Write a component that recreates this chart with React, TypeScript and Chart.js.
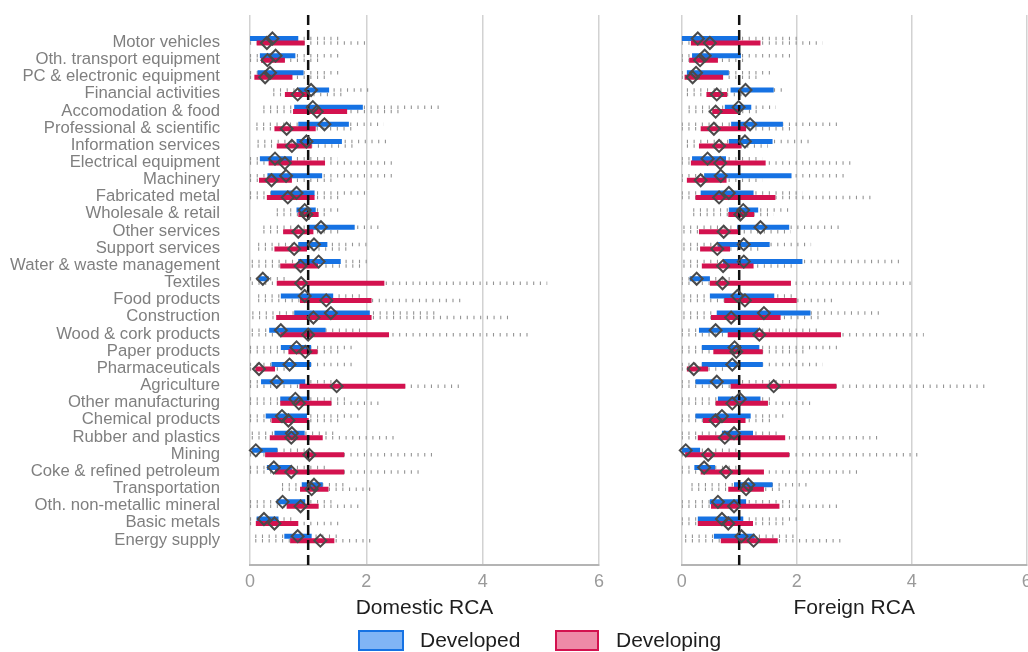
import React, { useEffect, useRef } from "react";
import { Chart, registerables } from "chart.js";

Chart.register(...registerables);

const FONT = "'Liberation Sans', Arial, Helvetica, sans-serif";
const BLUE = "#1672E3";
const RED = "#D3124F";
const WHISK = "#949494";
const OFF = 0.13;
const LABEL_NUDGE = 0.09;
const Y_MIN = -1.5;
const Y_MAX = 30.55;

const categories = [
  "Motor vehicles",
  "Oth. transport equipment",
  "PC & electronic equipment",
  "Financial activities",
  "Accomodation & food",
  "Professional & scientific",
  "Information services",
  "Electrical equipment",
  "Machinery",
  "Fabricated metal",
  "Wholesale & retail",
  "Other services",
  "Support services",
  "Water & waste management",
  "Textiles",
  "Food products",
  "Construction",
  "Wood & cork products",
  "Paper products",
  "Pharmaceuticals",
  "Agriculture",
  "Other manufacturing",
  "Chemical products",
  "Rubber and plastics",
  "Mining",
  "Coke & refined petroleum",
  "Transportation",
  "Oth. non-metallic mineral",
  "Basic metals",
  "Energy supply",
];

const xTicks = [0, 2, 4, 6];

// Domestic RCA – Developed
const domDevLo = [0, 0, 0, 0.4, 0.23, 0.11, 0.13, 0, 0, 0, 0.46, 0.23, 0.14, 0.03, 0, 0.14, 0.04, 0.03, 0, 0, 0, 0, 0, 0.03, 0, 0, 0.55, 0, 0, 0.09];
const domDevQ1 = [0.0, 0.17, 0.13, 0.83, 0.76, 0.83, 0.8, 0.17, 0.3, 0.36, 0.8, 0.99, 0.83, 0.83, 0.14, 0.53, 0.76, 0.33, 0.53, 0.37, 0.19, 0.52, 0.27, 0.42, 0.03, 0.29, 0.89, 0.46, 0.115, 0.59];
const domDevMed = [0.385, 0.44, 0.345, 1.05, 1.08, 1.28, 0.97, 0.43, 0.62, 0.8, 0.94, 1.22, 1.1, 1.18, 0.22, 0.94, 1.39, 0.53, 0.8, 0.68, 0.46, 0.78, 0.55, 0.72, 0.1, 0.41, 1.1, 0.56, 0.24, 0.82];
const domDevQ3 = [0.83, 0.78, 0.92, 1.36, 1.94, 1.7, 1.58, 0.72, 1.24, 1.11, 1.13, 1.8, 1.33, 1.56, 0.32, 1.43, 2.06, 1.3, 1.05, 1.05, 0.95, 1.02, 0.98, 0.94, 0.47, 0.72, 1.25, 0.95, 0.49, 1.06];
const domDevHi = [1.55, 1.6, 1.58, 2.07, 3.33, 2.3, 2.41, 1.5, 2.47, 1.98, 1.55, 2.27, 2.0, 2.1, 0.6, 1.95, 3.2, 1.95, 1.75, 1.81, 1.4, 1.7, 1.93, 1.5, 1.0, 1.3, 1.65, 1.4, 0.8, 1.5];

// Domestic RCA – Developing
const domDvgLo = [0, 0, 0, 0.4, 0.23, 0.11, 0.13, 0, 0, 0, 0.46, 0.23, 0.14, 0.03, 0.03, 0.14, 0.04, 0.03, 0, 0, 0, 0, 0, 0.03, 0, 0, 0.55, 0, 0, 0.09];
const domDvgQ1 = [0.115, 0.19, 0.075, 0.6, 0.74, 0.42, 0.46, 0.32, 0.155, 0.29, 0.83, 0.57, 0.42, 0.52, 0.46, 0.86, 0.45, 0.52, 0.66, 0.09, 0.85, 0.52, 0.37, 0.34, 0.26, 0.43, 0.86, 0.63, 0.1, 0.69];
const domDvgMed = [0.29, 0.3, 0.26, 0.82, 1.15, 0.63, 0.72, 0.6, 0.37, 0.65, 0.97, 0.83, 0.76, 0.87, 0.88, 1.31, 1.09, 1.0, 0.95, 0.155, 1.49, 0.84, 0.66, 0.71, 1.02, 0.71, 1.06, 0.87, 0.42, 1.21];
const domDvgQ3 = [0.94, 0.6, 0.73, 1.03, 1.67, 1.13, 1.06, 1.29, 0.72, 1.11, 1.18, 1.09, 0.98, 1.17, 2.31, 2.09, 2.09, 2.39, 1.16, 0.43, 2.67, 1.4, 1.01, 1.25, 1.62, 1.62, 1.35, 1.18, 0.83, 1.45];
const domDvgHi = [1.98, 1.2, 1.3, 1.6, 2.6, 1.75, 1.8, 2.44, 1.4, 1.6, 1.35, 1.6, 1.7, 1.9, 5.11, 3.71, 4.48, 4.8, 1.6, 0.6, 3.65, 2.3, 1.6, 2.53, 3.19, 2.9, 2.07, 1.9, 1.52, 2.13];

// Foreign RCA – Developed
const forDevLo = [0, 0, 0, 0.09, 0.12, 0, 0.09, 0, 0, 0, 0.2, 0.03, 0.03, 0.03, 0, 0.03, 0.03, 0, 0, 0, 0, 0, 0, 0, 0, 0, 0.17, 0, 0, 0.06];
const forDevQ1 = [0, 0.18, 0.09, 0.85, 0.75, 0.86, 0.82, 0.18, 0.39, 0.33, 0.82, 0.97, 0.63, 0.72, 0.14, 0.49, 0.61, 0.3, 0.35, 0.35, 0.24, 0.63, 0.24, 0.7, 0, 0.22, 0.91, 0.49, 0.28, 0.56];
const forDevMed = [0.28, 0.4, 0.25, 1.11, 0.99, 1.19, 1.1, 0.45, 0.68, 0.82, 1.07, 1.37, 1.08, 1.08, 0.26, 0.97, 1.43, 0.59, 0.92, 0.88, 0.61, 1.01, 0.7, 0.91, 0.07, 0.39, 1.16, 0.63, 0.7, 1.04];
const forDevQ3 = [1.0, 1.03, 0.82, 1.6, 1.21, 1.76, 1.58, 0.77, 1.91, 1.25, 1.33, 1.87, 1.53, 2.1, 0.49, 1.61, 2.24, 1.33, 1.35, 1.41, 1.01, 1.37, 1.2, 1.24, 0.32, 0.58, 1.58, 1.12, 1.07, 1.27];
const forDevHi = [2.0, 1.93, 1.61, 1.82, 1.64, 2.77, 2.22, 1.4, 2.85, 2.1, 1.87, 2.82, 2.25, 3.78, 0.9, 2.0, 3.49, 2.4, 2.71, 2.45, 1.9, 1.6, 1.84, 1.7, 1.0, 1.0, 2.22, 1.9, 2.05, 2.0];

// Foreign RCA – Developing
const forDvgLo = [0, 0, 0, 0.09, 0.12, 0, 0.09, 0, 0, 0, 0.2, 0.03, 0.03, 0.03, 0, 0.03, 0.03, 0, 0, 0, 0, 0, 0, 0, 0, 0, 0.17, 0, 0, 0.06];
const forDvgQ1 = [0.16, 0.13, 0.05, 0.43, 0.53, 0.33, 0.3, 0.16, 0.09, 0.24, 0.81, 0.3, 0.32, 0.35, 0.49, 0.74, 0.51, 0.8, 0.55, 0.09, 0.85, 0.59, 0.37, 0.28, 0.06, 0.33, 0.81, 0.51, 0.28, 0.68];
const forDvgMed = [0.49, 0.32, 0.19, 0.61, 0.59, 0.56, 0.65, 0.67, 0.33, 0.65, 1.02, 0.73, 0.62, 0.72, 0.71, 1.1, 0.86, 1.35, 0.95, 0.21, 1.6, 0.88, 0.59, 0.75, 0.46, 0.77, 1.12, 0.91, 0.81, 1.25];
const forDvgQ3 = [1.37, 0.63, 0.72, 0.79, 1.01, 1.12, 1.04, 1.46, 0.78, 1.63, 1.26, 1.01, 0.84, 1.25, 1.9, 2.0, 1.72, 2.77, 1.41, 0.46, 2.69, 1.5, 1.11, 1.8, 1.87, 1.43, 1.43, 1.7, 1.24, 1.67];
const forDvgHi = [2.45, 1.1, 1.3, 1.1, 1.4, 1.9, 1.5, 3.0, 1.4, 3.37, 1.6, 1.9, 1.4, 2.0, 3.98, 2.62, 2.4, 4.21, 2.2, 0.8, 5.3, 2.28, 1.6, 3.4, 4.12, 3.05, 1.8, 2.77, 1.8, 2.8];

const referenceLine = 1;

type Group = { lo: number[]; q1: number[]; med: number[]; q3: number[]; hi: number[] };

function segments(a: number[], b: number[], off: number) {
  const out: any[] = [];
  a.forEach((v, i) => {
    out.push({ x: v, y: i + off }, { x: b[i], y: i + off }, { x: null, y: null });
  });
  return out;
}

function points(m: number[], off: number) {
  return m.map((v, i) => ({ x: v, y: i + off }));
}

function buildConfig(dev: Group, dvg: Group, title: string, showLabels: boolean, padL: number, padR: number): any {
  const diamond = (data: any[]) => ({
    data,
    showLine: false,
    pointStyle: "rectRot",
    pointRadius: 6,
    pointBorderWidth: 2,
    pointBorderColor: "#4a4a4a",
    pointBackgroundColor: "rgba(0,0,0,0)",
    clip: false,
  });
  const bar = (data: any[], color: string) => ({
    data,
    showLine: true,
    borderColor: color,
    borderWidth: 5,
    borderCapStyle: "butt",
    pointRadius: 0,
    spanGaps: false,
  });
  const whisker = (data: any[]) => ({
    data,
    showLine: true,
    borderColor: WHISK,
    borderWidth: 3.5,
    borderDash: [1.1, 5.6],
    borderCapStyle: "butt",
    pointRadius: 0,
    spanGaps: false,
  });
  return {
    type: "scatter",
    data: {
      datasets: [
        { label: "Developed median", ...diamond(points(dev.med, -OFF)) },
        { label: "Developing median", ...diamond(points(dvg.med, OFF)) },
        {
          label: "RCA = 1",
          data: [
            { x: referenceLine, y: Y_MIN },
            { x: referenceLine, y: Y_MAX },
          ],
          showLine: true,
          borderColor: "#111111",
          borderWidth: 2.5,
          borderDash: [10, 5],
          pointRadius: 0,
        },
        { label: "Developing IQR", ...bar(segments(dvg.q1, dvg.q3, OFF), RED) },
        { label: "Developed IQR", ...bar(segments(dev.q1, dev.q3, -OFF), BLUE) },
        { label: "Developing range", ...whisker(segments(dvg.lo, dvg.hi, OFF)) },
        { label: "Developed range", ...whisker(segments(dev.lo, dev.hi, -OFF)) },
      ],
    },
    options: {
      responsive: false,
      animation: false,
      events: [],
      layout: { padding: { left: padL, right: padR, top: 15, bottom: 0 } },
      plugins: { legend: { display: false }, tooltip: { enabled: false } },
      scales: {
        x: {
          type: "linear",
          min: 0,
          max: 6,
          afterBuildTicks: (s: any) => {
            s.ticks = xTicks.map((v) => ({ value: v }));
          },
          ticks: {
            color: "#9a9a9a",
            font: { family: FONT, size: 18 },
            padding: 6,
          },
          grid: { color: "#d2d2d2", lineWidth: 1.5, drawTicks: false },
          border: { display: true, color: "#b4b4b4", width: 2 },
          title: {
            display: true,
            text: title,
            color: "#1e1e1e",
            font: { family: FONT, size: 21 },
            padding: { top: 0, bottom: 8.7 },
          },
          afterFit: (s: any) => {
            s.height = 65;
            s.paddingLeft = 0;
            s.paddingRight = 0;
          },
        },
        y: {
          type: "linear",
          reverse: true,
          min: Y_MIN,
          max: Y_MAX,
          afterBuildTicks: (s: any) => {
            s.ticks = categories.map((_, i) => ({ value: i + LABEL_NUDGE }));
          },
          ticks: {
            display: showLabels,
            autoSkip: false,
            padding: 30,
            color: "#7f7f7f",
            font: { family: FONT, size: 16.7 },
            callback: (v: any) => categories[Math.round(Number(v))] ?? "",
          },
          grid: { display: false, drawTicks: false },
          border: { display: false },
          afterFit: (s: any) => {
            s.width = showLabels ? 242 : 0;
            s.paddingTop = 0;
            s.paddingBottom = 0;
          },
        },
      },
    },
  };
}

export default function App() {
  const leftRef = useRef<HTMLCanvasElement>(null);
  const rightRef = useRef<HTMLCanvasElement>(null);

  useEffect(() => {
    const left = new Chart(
      leftRef.current as HTMLCanvasElement,
      buildConfig(
        { lo: domDevLo, q1: domDevQ1, med: domDevMed, q3: domDevQ3, hi: domDevHi },
        { lo: domDvgLo, q1: domDvgQ1, med: domDvgMed, q3: domDvgQ3, hi: domDvgHi },
        "Domestic RCA",
        true,
        8,
        41
      )
    );
    const right = new Chart(
      rightRef.current as HTMLCanvasElement,
      buildConfig(
        { lo: forDevLo, q1: forDevQ1, med: forDevMed, q3: forDevQ3, hi: forDevHi },
        { lo: forDvgLo, q1: forDvgQ1, med: forDvgMed, q3: forDvgQ3, hi: forDvgHi },
        "Foreign RCA",
        false,
        41.7,
        33.3
      )
    );
    return () => {
      left.destroy();
      right.destroy();
    };
  }, []);

  const legendText: React.CSSProperties = {
    position: "absolute",
    top: 627,
    fontFamily: FONT,
    fontSize: 21,
    lineHeight: "25px",
    color: "#1e1e1e",
    whiteSpace: "nowrap",
  };

  return (
    <div
      style={{
        position: "fixed",
        left: 0,
        top: 0,
        width: 1028,
        height: 652,
        overflow: "hidden",
        background: "#ffffff",
      }}
    >
      <canvas
        ref={leftRef}
        width={640}
        height={630}
        style={{ position: "absolute", left: 0, top: 0, width: 640, height: 630 }}
      />
      <canvas
        ref={rightRef}
        width={420}
        height={630}
        style={{ position: "absolute", left: 640, top: 0, width: 420, height: 630 }}
      />
      <div
        style={{
          position: "absolute",
          left: 358,
          top: 630,
          width: 42,
          height: 17,
          border: `2px solid ${BLUE}`,
          background: "#80B4F5",
        }}
      />
      <div style={{ ...legendText, left: 420 }}>Developed</div>
      <div
        style={{
          position: "absolute",
          left: 555,
          top: 630,
          width: 40,
          height: 17,
          border: `2px solid ${RED}`,
          background: "#EE8AA7",
        }}
      />
      <div style={{ ...legendText, left: 616 }}>Developing</div>
    </div>
  );
}
